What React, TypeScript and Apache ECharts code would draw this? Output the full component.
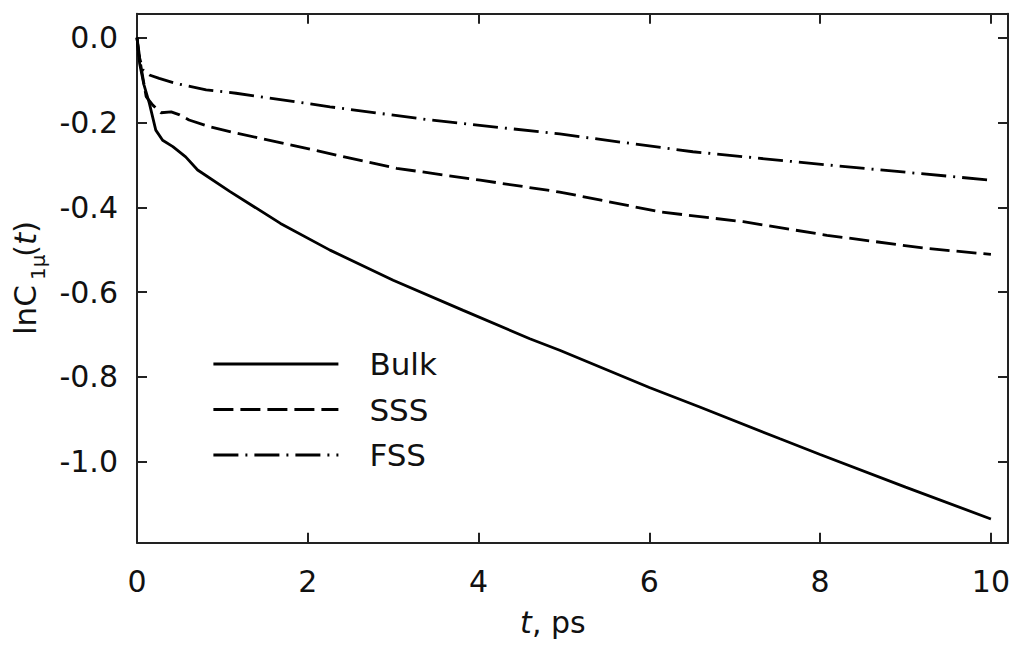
import React, { useEffect, useRef } from "react";
import * as echarts from "echarts";

// ---- data ----
const bulkT = [0, 0.03, 0.08, 0.145, 0.22, 0.3, 0.42, 0.57, 0.71, 1.09, 1.68, 2.26, 3.0, 3.82, 4.6, 4.95, 6.0, 6.59, 7.53, 8.0, 9.0, 10.0];
const bulkY = [0, -0.06, -0.11, -0.155, -0.218, -0.242, -0.257, -0.281, -0.312, -0.363, -0.438, -0.501, -0.572, -0.643, -0.71, -0.737, -0.825, -0.871, -0.946, -0.983, -1.06, -1.135];

const sssT = [0, 0.04, 0.107, 0.185, 0.28, 0.4, 0.5, 0.61, 0.85, 1.1, 2.07, 3.04, 4.02, 4.95, 6.13, 7.1, 8.08, 9.25, 10.0];
const sssY = [0, -0.06, -0.139, -0.159, -0.177, -0.175, -0.182, -0.194, -0.21, -0.222, -0.265, -0.308, -0.336, -0.364, -0.411, -0.434, -0.466, -0.497, -0.511];

const fssT = [0, 0.02, 0.07, 0.145, 0.26, 0.46, 0.81, 1.16, 2.26, 3.43, 4.95, 6.51, 8.08, 10.0];
const fssY = [0, -0.04, -0.076, -0.088, -0.096, -0.108, -0.123, -0.131, -0.163, -0.194, -0.227, -0.269, -0.3, -0.336];

const seriesNames = ["Bulk", "SSS", "FSS"];
const xTicks = [0, 2, 4, 6, 8, 10];
const yTicks = [0, -0.2, -0.4, -0.6, -0.8, -1.0];
const xRange = [0, 10.2];
const yRange = [-1.191, 0.0566];

const FONT = "'DejaVu Sans', sans-serif";
const INK = "#111";
const FRAME = "#222";

const zip = (t: number[], y: number[]) => t.map((v, i) => [v, y[i]]);

export default function App() {
  const ref = useRef<HTMLDivElement>(null);

  useEffect(() => {
    const chart = echarts.init(ref.current!, null, { renderer: "svg" });

    const lineStyle = { color: FRAME, width: 2 };
    const tick = (vals: number[]) => ({
      show: true,
      inside: true,
      length: 10,
      customValues: vals,
      lineStyle: { color: FRAME, width: 2 },
    });

    const xAxisBase = {
      type: "value" as const,
      min: xRange[0],
      max: xRange[1],
      axisLine: { show: true, onZero: false, lineStyle },
      splitLine: { show: false },
      axisTick: tick(xTicks),
    };
    const yAxisBase = {
      type: "value" as const,
      min: yRange[0],
      max: yRange[1],
      axisLine: { show: true, onZero: false, lineStyle },
      splitLine: { show: false },
      axisTick: tick(yTicks),
    };

    const mkSeries = (name: string, data: number[][], type: any) => ({
      name,
      type: "line",
      data,
      symbol: "none",
      showSymbol: false,
      smooth: false,
      lineStyle: { color: "#000", width: 2.8, type, cap: "butt" },
      itemStyle: { color: "#000" },
      emphasis: { disabled: true },
    });

    chart.setOption({
      animation: false,
      backgroundColor: "#ffffff",
      grid: { left: 137, right: 6, top: 13.7, bottom: 103.3 },
      xAxis: [
        {
          ...xAxisBase,
          position: "bottom",
          axisLabel: {
            customValues: xTicks,
            margin: 24,
            fontSize: 30,
            fontFamily: FONT,
            color: INK,
            formatter: (v: number) => String(v),
          },
        },
        { ...xAxisBase, position: "top", axisLabel: { show: false } },
      ],
      yAxis: [
        {
          ...yAxisBase,
          position: "left",
          axisLabel: {
            customValues: yTicks,
            margin: 19,
            fontSize: 30,
            fontFamily: FONT,
            color: INK,
            formatter: (v: number) => v.toFixed(1),
          },
        },
        { ...yAxisBase, position: "right", axisLabel: { show: false } },
      ],
      legend: {
        orient: "vertical",
        left: 207,
        top: 343.5,
        itemWidth: 125,
        itemHeight: 14,
        itemGap: 14.5,
        selectedMode: false,
        data: seriesNames,
        itemStyle: { opacity: 0 },
        lineStyle: { width: 2.8 },
        textStyle: {
          fontSize: 31,
          lineHeight: 31,
          fontFamily: FONT,
          color: INK,
          padding: [0, 0, 0, 26],
        },
      },
      series: [
        mkSeries(seriesNames[0], zip(bulkT, bulkY), "solid"),
        mkSeries(seriesNames[1], zip(sssT, sssY), [20, 7]),
        mkSeries(seriesNames[2], zip(fssT, fssY), [25, 7, 2, 7]),
      ],
      graphic: [
        {
          type: "group",
          x: 520,
          y: 622,
          children: [
            {
              type: "text",
              x: 0,
              y: 0,
              style: {
                text: "t",
                fontSize: 30,
                fontStyle: "italic",
                fontFamily: FONT,
                fill: INK,
                verticalAlign: "middle",
                align: "left",
              },
            },
            {
              type: "text",
              x: 12,
              y: 0,
              style: {
                text: ", ps",
                fontSize: 30,
                fontFamily: FONT,
                fill: INK,
                verticalAlign: "middle",
                align: "left",
              },
            },
          ],
        },
        {
          type: "group",
          x: 25,
          y: 335,
          rotation: Math.PI / 2,
          children: [
            {
              type: "text",
              x: 0,
              y: 0,
              style: { text: "lnC", fontSize: 31, fontFamily: FONT, fill: INK, verticalAlign: "middle", align: "left" },
            },
            {
              type: "text",
              x: 55,
              y: 13,
              style: { text: "1μ", fontSize: 20, fontFamily: FONT, fill: INK, verticalAlign: "middle", align: "left" },
            },
            {
              type: "text",
              x: 78,
              y: 0,
              style: { text: "(", fontSize: 31, fontFamily: FONT, fill: INK, verticalAlign: "middle", align: "left" },
            },
            {
              type: "text",
              x: 90,
              y: 0,
              style: { text: "t", fontSize: 31, fontStyle: "italic", fontFamily: FONT, fill: INK, verticalAlign: "middle", align: "left" },
            },
            {
              type: "text",
              x: 102,
              y: 0,
              style: { text: ")", fontSize: 31, fontFamily: FONT, fill: INK, verticalAlign: "middle", align: "left" },
            },
          ],
        },
      ],
    });

    return () => chart.dispose();
  }, []);

  return (
    <div
      ref={ref}
      style={{ position: "absolute", left: 0, top: 0, width: 1014, height: 646, background: "#fff" }}
    />
  );
}
